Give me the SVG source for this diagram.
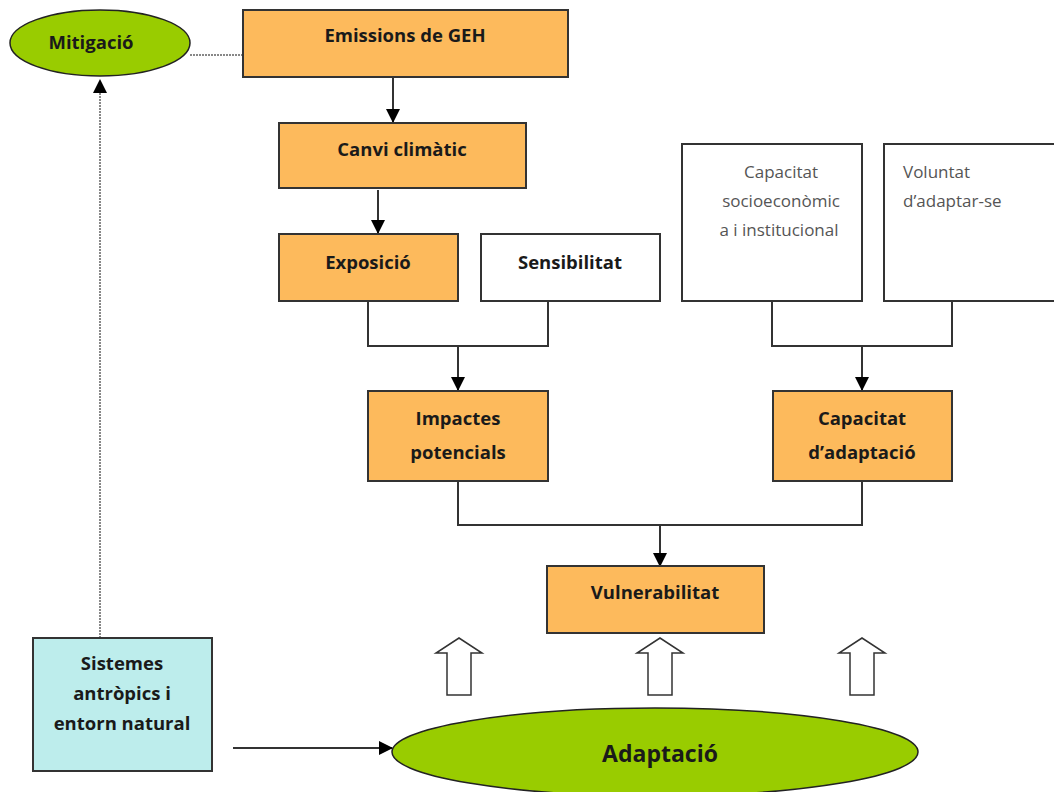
<svg xmlns="http://www.w3.org/2000/svg" width="1054" height="792" viewBox="0 0 1054 792">
<defs>
<marker id="ah2" markerWidth="14" markerHeight="14" refX="13" refY="7" orient="auto" markerUnits="userSpaceOnUse"><path d="M0,0 L14,7 L0,14 Z" fill="#000"/></marker>
<style>
.o{fill:#FDBA5C;stroke:#333;stroke-width:2}
.w{fill:#fff;stroke:#333;stroke-width:2}
.g{fill:#99CC00;stroke:#222;stroke-width:1.5}
.c{fill:#BDEDEC;stroke:#333;stroke-width:2}
.t{font-family:"Open Sans","Liberation Sans",sans-serif;font-weight:bold;font-size:18.5px;fill:#1a1a1a;text-anchor:middle}
.n{font-family:"Open Sans","Liberation Sans",sans-serif;font-size:17px;fill:#555}
.l{fill:none;stroke:#333;stroke-width:2}
.d{fill:none;stroke:#888;stroke-width:2;stroke-dasharray:2 1}
.h{fill:#fff;stroke:#333;stroke-width:1.5}
</style>
</defs>
<g id="connectors">
<line class="d" x1="190" y1="55" x2="243" y2="55"/>
<line class="d" x1="100" y1="638" x2="100" y2="80" marker-end="url(#ah2)"/>
<line class="l" x1="393" y1="77" x2="393" y2="122" marker-end="url(#ah2)"/>
<line class="l" x1="378" y1="190" x2="378" y2="233" stroke="#555" marker-end="url(#ah2)"/>
<polyline class="l" points="368,301 368,346 548,346 548,301"/>
<line class="l" x1="458" y1="346" x2="458" y2="390" marker-end="url(#ah2)"/>
<polyline class="l" points="772,301 772,346 952,346 952,301"/>
<line class="l" x1="862" y1="346" x2="862" y2="390" marker-end="url(#ah2)"/>
<polyline class="l" points="458,481 458,525 862,525 862,481"/>
<line class="l" x1="660" y1="525" x2="660" y2="566" marker-end="url(#ah2)"/>
<line class="l" x1="233" y1="748" x2="392" y2="748" marker-end="url(#ah2)"/>
<path class="h" d="M447,695 V653 H436 L459,638 L482,653 H471 V695 Z"/>
<path class="h" d="M648,695 V653 H637 L660,638 L683,653 H672 V695 Z"/>
<path class="h" d="M850,695 V653 H839 L862,638 L885,653 H874 V695 Z"/>
</g>
<g id="mitigacio"><ellipse class="g" cx="100" cy="43" rx="90" ry="33"/><text class="t" x="91" y="49">Mitigació</text></g>
<g id="emissions"><rect class="o" x="243" y="10" width="325" height="67"/><text class="t" x="405" y="42">Emissions de GEH</text></g>
<g id="canvi"><rect class="o" x="279" y="123" width="247" height="65"/><text class="t" x="402" y="156">Canvi climàtic</text></g>
<g id="exposicio"><rect class="o" x="279" y="234" width="179" height="67"/><text class="t" x="368" y="269">Exposició</text></g>
<g id="sensibilitat"><rect class="w" x="481" y="234" width="179" height="67"/><text class="t" x="570" y="269">Sensibilitat</text></g>
<g id="capsocio"><rect class="w" x="682" y="144" width="180" height="157"/>
<text class="n" text-anchor="middle"><tspan x="781" y="178">Capacitat</tspan><tspan x="781" y="207">socioeconòmic</tspan><tspan x="779" y="236">a i institucional</tspan></text></g>
<g id="voluntat"><rect class="w" x="884" y="144" width="175" height="157"/>
<text class="n"><tspan x="903" y="178">Voluntat</tspan><tspan x="903" y="207">d’adaptar-se</tspan></text></g>
<g id="impactes"><rect class="o" x="368" y="391" width="180" height="90"/><text class="t"><tspan x="458" y="425">Impactes</tspan><tspan x="458" y="459">potencials</tspan></text></g>
<g id="capadapt"><rect class="o" x="773" y="391" width="179" height="90"/><text class="t"><tspan x="862" y="425">Capacitat</tspan><tspan x="862" y="459">d’adaptació</tspan></text></g>
<g id="vulnerabilitat"><rect class="o" x="547" y="566" width="217" height="67"/><text class="t" x="655" y="599">Vulnerabilitat</text></g>
<g id="sistemes"><rect class="c" x="33" y="638" width="179" height="133"/><text class="t"><tspan x="122" y="670">Sistemes</tspan><tspan x="122" y="700">antròpics i</tspan><tspan x="122" y="730">entorn natural</tspan></text></g>
<g id="adaptacio"><ellipse class="g" cx="655" cy="752" rx="263" ry="44"/><text class="t" x="660" y="762" style="font-size:23px">Adaptació</text></g>
</svg>
